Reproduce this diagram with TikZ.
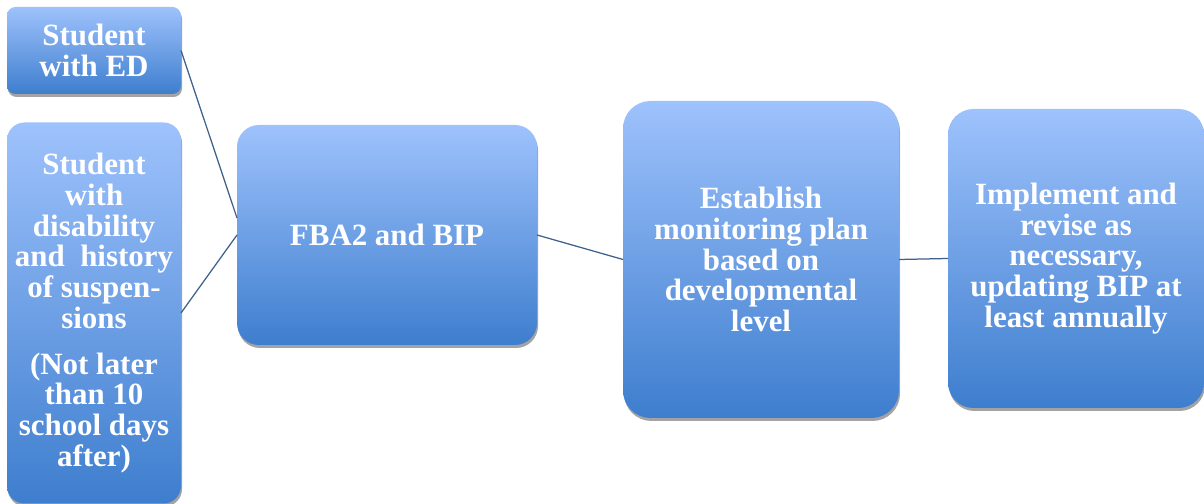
\documentclass[tikz,border=0pt]{standalone}
\usepackage{fontspec}
\setmainfont{Liberation Serif}
\usetikzlibrary{shadows}
\definecolor{boxtop}{RGB}{158,194,252}
\definecolor{boxbottom}{RGB}{62,126,206}
\definecolor{linkblue}{RGB}{62,96,140}

\begin{document}
\begin{tikzpicture}[outer sep=0,
        stepbox/.style={inner sep=0, align=center, text=white, top color=boxtop, bottom color=boxbottom,
            font=\bfseries\fontsize{17.6}{17.5}\selectfont,
            drop shadow={shadow xshift=0.02cm, shadow yshift=-0.06cm, opacity=0.2, fill=black, top color=black, bottom color=black}},
        link/.style={draw=linkblue, line width=0.025cm}]
        \useasboundingbox (0,0) rectangle (24.08,10.08);
        % Students
        \node[stepbox, rounded corners=0.17cm, minimum width=3.48cm, minimum height=1.74cm] (StudentED) at (1.88,9.07) {Student\\with ED};
        \node[stepbox, rounded corners=0.35cm, minimum width=3.48cm, minimum height=7.62cm] (StudentSusp) at (1.88,3.82) {Student\\with\\disability\\and~~history\\of suspen-\\sions\\[0.3cm](Not later\\than 10\\school days\\after)};
        % Steps
        \node[stepbox, rounded corners=0.44cm, minimum width=6.0cm, minimum height=4.4cm] (FBA) at (7.74,5.38) {FBA2 and BIP};
        \node[stepbox, rounded corners=0.55cm, minimum width=5.52cm, minimum height=6.34cm] (Monitor) at (15.22,4.89) {Establish\\monitoring plan\\based on\\developmental\\level};
        \node[stepbox, rounded corners=0.51cm, minimum width=5.12cm, minimum height=5.98cm] (Implement) at (21.52,4.91) {Implement and\\revise as\\necessary,\\updating BIP at\\least annually};
        % Links
        \draw[link] (StudentED.east) -- ([yshift=0.34cm]FBA.west);
        \draw[link] (StudentSusp.east) -- (FBA.west);
        \draw[link] (FBA.east) -- (Monitor.west);
        \draw[link] (Monitor.east) -- (Implement.west);
    \end{tikzpicture}
\end{document}
